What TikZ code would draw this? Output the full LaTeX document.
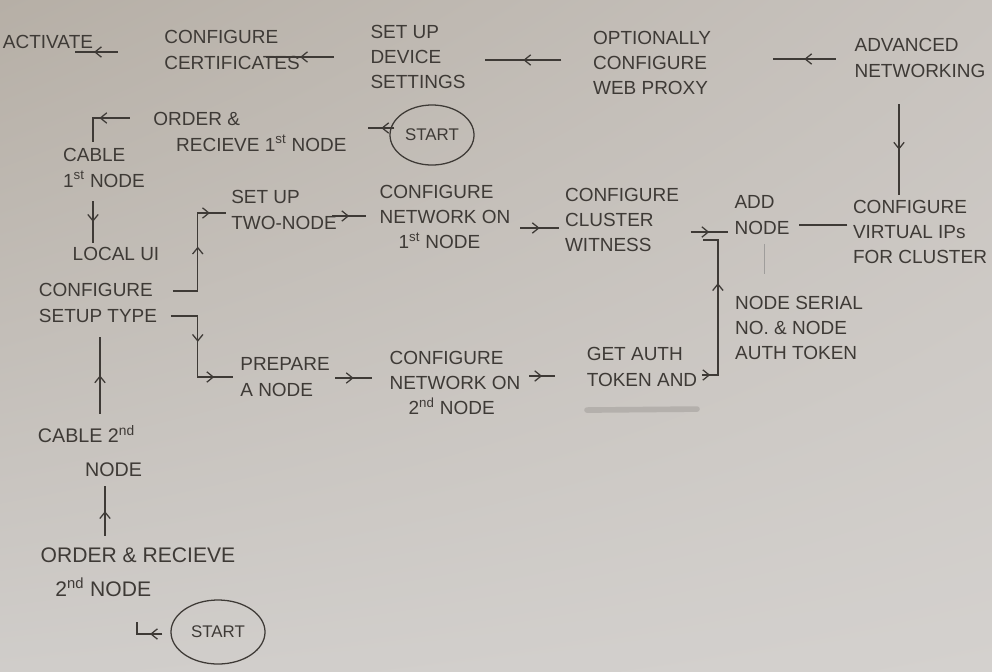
\documentclass[tikz,border=0pt]{standalone}
\usepackage{fontspec}
\setmainfont{Liberation Sans}
\usetikzlibrary{calc,arrows.meta,decorations.markings,shapes.geometric,shadings}
\definecolor{ink}{RGB}{62,58,54}
\definecolor{paperA}{RGB}{182,175,166}
\definecolor{paperB}{RGB}{200,195,190}
\definecolor{paperC}{RGB}{208,205,202}
\definecolor{paperD}{RGB}{212,209,206}
\definecolor{smudge}{RGB}{180,176,172}
\tikzset{
  txt/.style={text=ink, align=left, inner sep=1pt, font=\fontsize{13.5}{18}\selectfont},
  startc/.style={draw=ink, line width=0.9pt, ellipse, text=ink, inner sep=1pt, font=\fontsize{12}{14}\selectfont},
  conn/.style={draw=ink, line width=0.9pt},
  barb/.tip={Straight Barb[length=1.6mm,width=2.6mm,line width=0.9pt]},
  marr/.style={conn, postaction={decorate}, decoration={markings, mark=at position #1 with {\arrow{barb}}}},
  marr/.default=0.5,
  marrtwo/.style 2 args={conn, postaction={decorate}, decoration={markings, mark=at position #1 with {\arrow{barb}}, mark=at position #2 with {\arrow{barb}}}}
}
\begin{document}
\begin{tikzpicture}[x=0.025cm,y=-0.025cm]
\useasboundingbox (0,0) rectangle (992,671);
\shade[upper left=paperA, upper right=paperB, lower left=paperC, lower right=paperD] (0,0) rectangle (992,671);

% nodes
\node[txt] (act) at (48,42) {ACTIVATE};
\node[txt] (cert) at (232,50) {CONFIGURE\\CERTIFICATES};
\node[txt] (dev) at (418,57) {SET UP\\DEVICE\\SETTINGS};
\node[txt] (proxy) at (652,63) {OPTIONALLY\\CONFIGURE\\WEB PROXY};
\node[txt] (adv) at (920,58) {ADVANCED\\NETWORKING};
\node[txt] (vip) at (920,232) {CONFIGURE\\VIRTUAL IPs\\FOR CLUSTER};
\node[txt] (add) at (762,215) {ADD\\NODE};
\node[txt] (wit) at (622,220) {CONFIGURE\\CLUSTER\\WITNESS};
\node[txt] (net1) at (445,217) {CONFIGURE\\NETWORK ON\\\quad1\textsuperscript{st} NODE};
\node[txt] (two) at (284,210) {SET UP\\TWO-NODE};
\node[txt] (local) at (116,254) {LOCAL UI};
\node[txt] (setup) at (98,303) {CONFIGURE\\SETUP TYPE};
\node[txt] (cab1) at (104,168) {CABLE\\1\textsuperscript{st} NODE};
\node[txt] (ord1) at (250,132) {ORDER \&\\\hspace{1.2em}RECIEVE 1\textsuperscript{st} NODE};
\node[startc, minimum width=2.1cm, minimum height=1.5cm] (st1) at (432,135) {START};
\node[txt] (prep) at (285,377) {PREPARE\\A NODE};
\node[txt] (net2) at (455,383) {CONFIGURE\\NETWORK ON\\\quad2\textsuperscript{nd} NODE};
\node[txt] (auth) at (642,367) {GET AUTH\\TOKEN AND};
\node[txt] (serial) at (799,328) {NODE SERIAL\\NO. \& NODE\\AUTH TOKEN};
\node[txt, font=\fontsize{14}{24}\selectfont] (cab2) at (90,451) {CABLE 2\textsuperscript{nd}\\\hspace{2.4em}NODE};
\node[txt, font=\fontsize{15}{24}\selectfont] (ord2) at (138,572) {ORDER \& RECIEVE\\\hspace{0.7em}2\textsuperscript{nd} NODE};
\node[startc, minimum width=2.35cm, minimum height=1.6cm] (st2) at (218,632) {START};

% connectors (top row, right to left)
\draw[marr=0.55] ($(cert.west)+(-45,2)$) -- ($(act.east)+(-20,10)$);
\draw[marr] ($(dev.west)+(-35,0)$) -- ($(cert.east)+(-35,7)$);
\draw[marr] ($(proxy.west)+(-30,-3)$) -- ($(dev.east)+(18,3)$);
\draw[marr] ($(adv.west)+(-17,1)$) -- ($(proxy.east)+(60,-4)$);
\draw[marr] ($(adv.south)+(-21,25)$) -- ($(vip.north)+(-21,-3)$);
% right column down / middle row
\draw[conn] ($(vip.west)+(-4,-7)$) -- ($(add.east)+(8,10)$);
\draw[marr] ($(wit.east)+(10,12)$) -- ($(add.west)+(-5,17)$);
\draw[marr] ($(net1.east)+(8,11)$) -- ($(wit.west)+(-4,8)$);
\draw[marr] ($(two.east)+(-6,6)$) -- ($(net1.west)+(-12,-1)$);
\draw[marrtwo={0.53}{0.88}] ($(setup.east)+(14,-12)$) -- ($(setup.east)+(39,-12)$) |- ($(two.west)+(-4,3)$);
\draw[marrtwo={0.43}{0.85}] ($(setup.east)+(12,13)$) -- ($(setup.east)+(39,13)$) |- ($(prep.west)+(-6,0)$);
\draw[marr] ($(prep.east)+(4,1)$) -- ($(net2.west)+(-16,-5)$);
\draw[marr] ($(net2.east)+(7,-7)$) -- ($(auth.west)+(-30,9)$);
\draw[marrtwo={0.05}{0.65}] ($(auth.east)+(3,8)$) -- ($(auth.east)+(19,8)$) |- ($(add.west)+(-30,25)$);
% left column
\draw[marr] ($(ord1.west)+(-22,-14)$) -| ($(cab1.north)+(-11,-5)$);
\draw[marr] ($(st1.west)+(5,-7)$) -- ($(ord1.east)+(20,-4)$);
\draw[marr] ($(cab1.south)+(-11,12)$) -- ($(local.north)+(-23,-3)$);
\draw[marr] ($(cab2.north)+(10,-10)$) -- ($(setup.south)+(2,13)$);
\draw[marr] ($(ord2.north)+(-33,-10)$) -- ($(cab2.south)+(15,8)$);
\draw[marr=0.33] ($(st2.west)+(-8,2)$) -| ($(ord2.south)+(-1,24)$);
% faint marks
\draw[ink!50, line width=0.6pt] ($(add.south)+(2,8)$) -- ($(add.south)+(2,38)$);
\draw[smudge, line width=4pt, line cap=round] ($(auth.south)+(-55,22)$) -- ($(auth.south)+(55,21)$);
\end{tikzpicture}
\end{document}
